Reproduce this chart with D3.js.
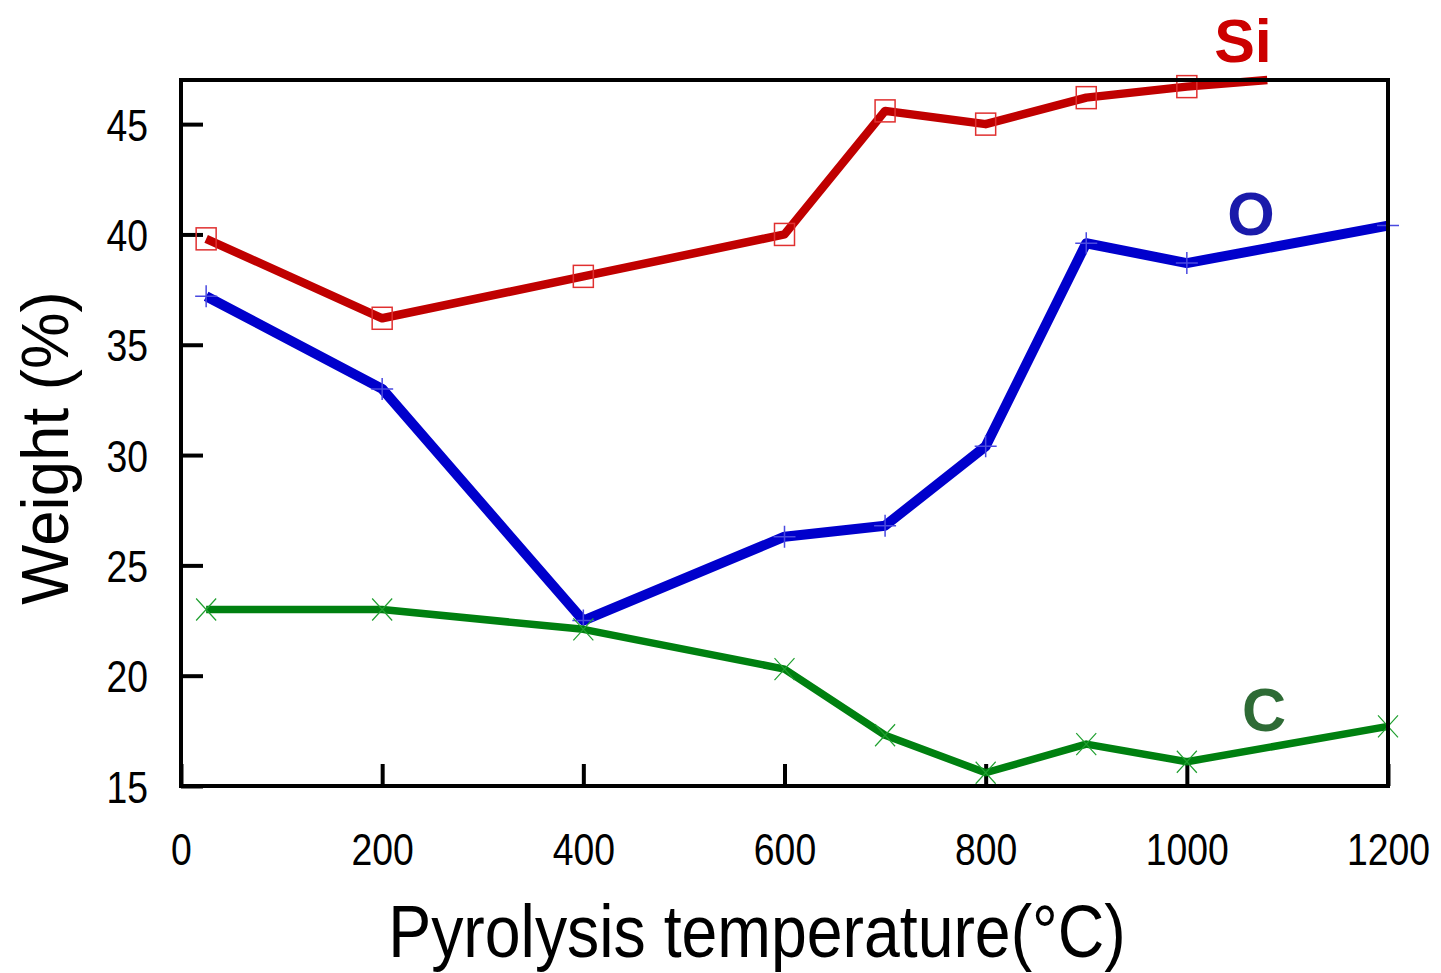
<!DOCTYPE html>
<html><head><meta charset="utf-8">
<script src="https://cdn.jsdelivr.net/npm/d3@7"></script>
<style>body{margin:0;background:#fff}svg{display:block}text{font-family:"Liberation Sans",Arial,sans-serif}</style>
</head><body>
<script>
const temps = [25, 200, 400, 600, 700, 800, 900, 1000, 1200];
const siValues = [39.8, 36.2, 38.1, 40.0, 45.6, 45.0, 46.2, 46.7, 47.45];
const oValues = [37.2, 33.0, 22.5, 26.3, 26.8, 30.4, 39.6, 38.7, 40.4];
const cValues = [23.0, 23.0, 22.1, 20.3, 17.3, 15.6, 16.9, 16.1, 17.7];
const xTicks = [0, 200, 400, 600, 800, 1000, 1200];
const yTicks = [15, 20, 25, 30, 35, 40, 45];
const seriesNames = ["Si", "O", "C"];

const W = 1441, H = 973;
const m = {left: 181, right: 1388, top: 80, bottom: 786};
const svg = d3.select("body").append("svg").attr("width", W).attr("height", H);

const yMax = 47;
const x = d3.scaleLinear().domain([0, 1200]).range([m.left, m.right]);
const y = d3.scaleLinear().domain([15, yMax]).range([m.bottom, m.top]);

const SX = 0.83, TICKFS = 45;
const gx = svg.append("g").attr("transform", `translate(0,${m.bottom})`)
  .call(d3.axisBottom(x).tickValues(xTicks).tickSize(-22).tickFormat(d3.format("d")));
const gy = svg.append("g").attr("transform", `translate(${m.left},0)`)
  .call(d3.axisLeft(y).tickValues(yTicks).tickSize(-22).tickFormat(d3.format("d")));
[gx, gy].forEach(g => {
  g.select(".domain").remove();
  g.selectAll(".tick line").attr("stroke", "#000").attr("stroke-width", 4);
  g.selectAll(".tick text").attr("font-size", TICKFS).attr("fill", "#000");
});
gx.selectAll(".tick text").attr("y", 79).attr("dy", 0).attr("transform", `scale(${SX},1)`);
gy.selectAll(".tick text").attr("x", -33 / SX).attr("dy", "0.36em").attr("transform", `scale(${SX},1)`);

const series = [
  {name: "Si", values: siValues, line: "#c00000", mark: "#e03030", width: 8.5, shape: "square", lab: "#cc0000", lx: 1243, ly: 62},
  {name: "O", values: oValues, line: "#0000cc", mark: "#4a4ae0", width: 10, shape: "plus", lab: "#1a1aaa", lx: 1251, ly: 235},
  {name: "C", values: cValues, line: "#008010", mark: "#20a030", width: 7.5, shape: "cross", lab: "#2e6b35", lx: 1264, ly: 731}
];

// geometric clipping of a polyline at the top of the y domain
function clipTop(pts) {
  const out = [];
  for (let i = 0; i < pts.length; i++) {
    const p = pts[i];
    if (p[1] <= yMax) { out.push(p); continue; }
    if (i > 0 && pts[i - 1][1] <= yMax) {
      const q = pts[i - 1];
      const t = (yMax - q[1]) / (p[1] - q[1]);
      out.push([q[0] + t * (p[0] - q[0]), yMax]);
    }
    break;
  }
  return out;
}

const lineGen = d3.line().x(d => x(d[0])).y(d => y(d[1]));

series.forEach(s => {
  const pts = temps.map((t, i) => [t, s.values[i]]);
  const g = svg.append("g");
  g.append("path").datum(clipTop(pts)).attr("d", lineGen).attr("fill", "none")
    .attr("stroke", s.line).attr("stroke-width", s.width).attr("stroke-linejoin", "round");
  const mk = g.selectAll("g.m").data(pts.filter(p => p[1] <= yMax)).join("g")
    .attr("transform", d => `translate(${x(d[0])},${y(d[1])})`);
  if (s.shape === "square") {
    mk.append("rect").attr("x", -10).attr("y", -11).attr("width", 20).attr("height", 22)
      .attr("fill", "none").attr("stroke", s.mark).attr("stroke-width", 1.5);
  } else if (s.shape === "plus") {
    mk.append("path").attr("d", "M-11,0H11M0,-11V11").attr("stroke", s.mark).attr("stroke-width", 1.5);
  } else {
    mk.append("path").attr("d", "M-10,-11L10,11M-10,11L10,-11").attr("stroke", s.mark).attr("stroke-width", 1.2);
  }
  svg.append("text").attr("x", s.lx).attr("y", s.ly).attr("text-anchor", "middle")
    .attr("font-size", 61).attr("font-weight", "bold").attr("fill", s.lab).text(s.name);
});

svg.append("rect").attr("x", m.left).attr("y", m.top).attr("width", m.right - m.left).attr("height", m.bottom - m.top)
  .attr("fill", "none").attr("stroke", "#000").attr("stroke-width", 4);

svg.append("text").attr("transform", "translate(757,957) scale(0.87,1)").attr("text-anchor", "middle")
  .attr("font-size", 74).attr("fill", "#000").text("Pyrolysis temperature(°C)");
svg.append("text").attr("transform", "translate(68,448) rotate(-90) scale(0.95,1)").attr("text-anchor", "middle")
  .attr("font-size", 67).attr("fill", "#000").text("Weight (%)");
</script>
</body></html>
